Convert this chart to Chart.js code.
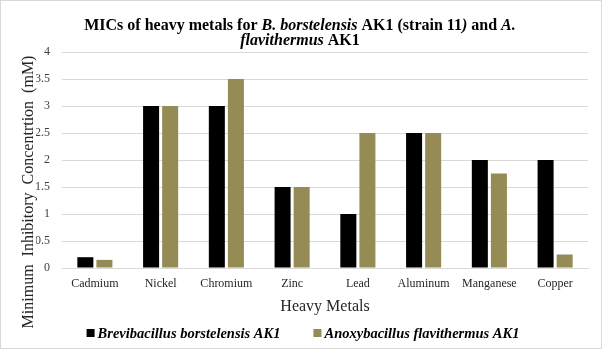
<!DOCTYPE html>
<html>
<head>
<meta charset="utf-8">
<script src="https://cdn.jsdelivr.net/npm/chart.js@4/dist/chart.umd.min.js"></script>
<style>
  html, body { margin: 0; padding: 0; background: #fff; }
  #wrap { width: 602px; height: 349px; position: relative; }
</style>
</head>
<body>
<div id="wrap"><canvas id="micChart" width="602" height="349"></canvas></div>
<script>
const metals = ['Cadmium', 'Nickel', 'Chromium', 'Zinc', 'Lead', 'Aluminum', 'Manganese', 'Copper'];
const brevibacillus = [0.2, 3, 3, 1.5, 1, 2.5, 2, 2];
const anoxybacillus = [0.15, 3, 3.5, 1.5, 2.5, 2.5, 1.75, 0.25];
const seriesNames = ['Brevibacillus borstelensis AK1', 'Anoxybacillus flavithermus AK1'];
const seriesColors = ['#000000', '#958b55'];
const yTitle = 'Minimum  Inhibitory  Concentrtion  (mM)';

const SERIF = "'Liberation Serif', 'Times New Roman', serif";

// title lines, split where the font switches between upright and italic
const titleLines = [
    [['MICs of heavy metals for ', false], ['B. borstelensis', true], [' AK1 (strain 11', false],
     [')', true], [' and ', false], ['A.', true]],
    [['flavithermus', true], [' AK1', false]]
];

function drawRichLine(ctx, segs, cx, y, size) {
    const fontFor = it => (it ? 'italic ' : '') + 'bold ' + size + 'px ' + SERIF;
    let total = 0;
    segs.forEach(([t, it]) => { ctx.font = fontFor(it); total += ctx.measureText(t).width; });
    let x = cx - total / 2;
    segs.forEach(([t, it]) => {
        ctx.font = fontFor(it);
        ctx.fillText(t, x, y);
        x += ctx.measureText(t).width;
    });
}

const textPlugin = {
    id: 'textPlugin',
    afterDraw(chart) {
        const ctx = chart.ctx;
        ctx.save();
        ctx.fillStyle = '#000';
        ctx.textBaseline = 'alphabetic';
        ctx.textAlign = 'left';
        drawRichLine(ctx, titleLines[0], 300, 30, 16);
        drawRichLine(ctx, titleLines[1], 300, 45, 16);

        // legend row under the axis title
        ctx.font = 'italic bold 14.5px ' + SERIF;
        ctx.textBaseline = 'middle';
        const gap = 3, itemGap = 33, box = 8;
        const widths = chart.data.datasets.map(ds => box + gap + ctx.measureText(ds.label).width);
        const total = widths.reduce((a, b) => a + b, 0) + itemGap * (widths.length - 1);
        let x = 303 - total / 2;
        const ly = 333;
        chart.data.datasets.forEach((ds, i) => {
            ctx.fillStyle = ds.backgroundColor;
            ctx.fillRect(x, ly - box / 2, box, box);
            ctx.fillStyle = '#000';
            ctx.fillText(ds.label, x + box + gap, ly + 1);
            x += widths[i] + itemGap;
        });

        // y axis title
        ctx.translate(33, 192);
        ctx.rotate(-Math.PI / 2);
        ctx.font = '16px ' + SERIF;
        ctx.textAlign = 'center';
        ctx.textBaseline = 'alphabetic';
        ctx.fillStyle = '#262626';
        ctx.fillText(yTitle, 0, 0);
        ctx.restore();

        // outer frame
        ctx.save();
        ctx.strokeStyle = '#d9d9d9';
        ctx.lineWidth = 1;
        ctx.strokeRect(0.5, 0.5, chart.width - 1, chart.height - 1);
        ctx.restore();
    }
};

new Chart(document.getElementById('micChart'), {
    type: 'bar',
    data: {
        labels: metals,
        datasets: [
            { label: seriesNames[0], data: brevibacillus, backgroundColor: seriesColors[0], borderWidth: 0 },
            { label: seriesNames[1], data: anoxybacillus, backgroundColor: seriesColors[1], borderWidth: 0 }
        ]
    },
    options: {
        responsive: false,
        animation: false,
        categoryPercentage: 0.58,
        barPercentage: 0.84,
        layout: { padding: { left: 36, right: 14, top: 52, bottom: 33 } },
        plugins: {
            title: { display: false },
            tooltip: { enabled: false },
            legend: { display: false }
        },
        scales: {
            x: {
                grid: { display: false, drawTicks: false },
                border: { color: '#d9d9d9' },
                ticks: { color: '#262626', font: { family: SERIF, size: 12 }, padding: 9 },
                title: { display: true, text: 'Heavy Metals', color: '#262626', font: { family: SERIF, size: 16 }, padding: { top: 5, bottom: 0 } },
                afterFit(scale) { scale.height = 48; }
            },
            y: {
                min: 0,
                max: 4,
                ticks: {
                    stepSize: 0.5,
                    color: '#404040',
                    font: { family: SERIF, size: 12 },
                    padding: 12,
                    callback: v => String(v)
                },
                grid: { color: '#d9d9d9', drawTicks: false },
                border: { display: false },
                afterFit(scale) { scale.width = 26; }
            }
        }
    },
    plugins: [textPlugin]
});
</script>
</body>
</html>
